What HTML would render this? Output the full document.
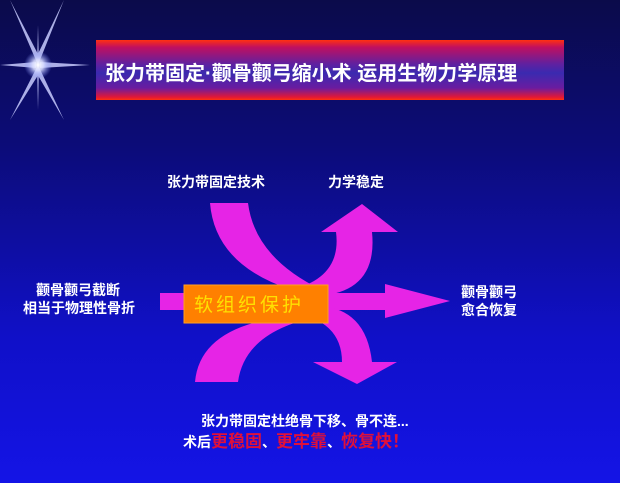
<!DOCTYPE html>
<html><head><meta charset="utf-8"><style>
body{margin:0;width:620px;height:483px;overflow:hidden;background:linear-gradient(180deg,#0b0b4a 0%,#0c0c78 30%,#1010c8 70%,#1414e6 100%);font-family:"Liberation Sans","Noto Sans CJK SC",sans-serif;position:relative}
.t{position:absolute;color:#fff;font-weight:bold;font-size:14px;white-space:nowrap;line-height:17px}
.banner{position:absolute;left:96px;top:40px;width:468px;height:60px;background:linear-gradient(180deg,#ff3010 0%,#c01060 12%,#6020a0 40%,#3a2ab0 55%,#6a1ca0 80%,#e01838 95%,#ff3010 100%)}
.banner span{position:absolute;left:9px;top:17px;color:#fff;font-weight:bold;font-size:20px;white-space:nowrap}
.r{color:#e0103a}
</style></head><body>
<svg width="620" height="483" style="position:absolute;left:0;top:0">
<defs><radialGradient id="g"><stop offset="0" stop-color="#fff"/><stop offset="0.4" stop-color="#d8dcff" stop-opacity="0.9"/><stop offset="1" stop-color="#8090ff" stop-opacity="0"/></radialGradient></defs>
<g fill="#c8ccff" opacity="0.85">
<polygon points="38,65 10,0 40,58"/><polygon points="38,65 64,0 36,58"/>
<polygon points="38,65 10,120 40,72"/><polygon points="38,65 64,120 36,72"/>
<polygon points="36,62 0,65 36,68"/><polygon points="40,62 90,65 40,68"/>
<polygon points="37,65 38,25 39,65"/><polygon points="37,65 38,110 39,65"/>
</g>
<circle cx="38" cy="65" r="14" fill="url(#g)"/>
<g fill="#e624e6">
<path d="M210,203 Q215,265 292,290 L322,290 Q255,258 248,203 Z"/>
<path d="M290,290 Q342,278 336,232 L321,232 L362,204 L398,232 L372,232 Q378,292 318,296 Z"/>
<path d="M160,293 L385,293 L385,284 L450,301 L385,318 L385,310 L160,310 Z"/>
<path d="M195,382 Q200,325 292,316 L322,316 Q245,330 238,382 Z"/>
<path d="M290,312 Q342,320 342,362 L313,362 L357,384 L397,362 L372,362 Q366,308 318,306 Z"/>
</g>
<rect x="184" y="285" width="144" height="38" fill="#ff8000" stroke="#ffa020"/>
<text x="194" y="311" fill="#ffe000" font-size="19" font-family="Liberation Sans,Noto Sans CJK SC,sans-serif" letter-spacing="3">软组织保护</text>
</svg>
<div class="banner"><span>张力带固定·颧骨颧弓缩小术 运用生物力学原理</span></div>
<div class="t" style="left:167px;top:174px">张力带固定技术</div>
<div class="t" style="left:328px;top:174px">力学稳定</div>
<div class="t" style="left:36px;top:282px">颧骨颧弓截断</div>
<div class="t" style="left:23px;top:300px">相当于物理性骨折</div>
<div class="t" style="left:461px;top:284px">颧骨颧弓</div>
<div class="t" style="left:461px;top:302px">愈合恢复</div>
<div class="t" style="left:201px;top:413px">张力带固定杜绝骨下移、骨不连...</div>
<div class="t" style="left:183px;top:433px">术后<span class="r" style="font-size:17px">更稳固</span>、<span class="r" style="font-size:17px">更牢靠</span>、<span class="r" style="font-size:17px">恢复快！</span></div>
</body></html>
